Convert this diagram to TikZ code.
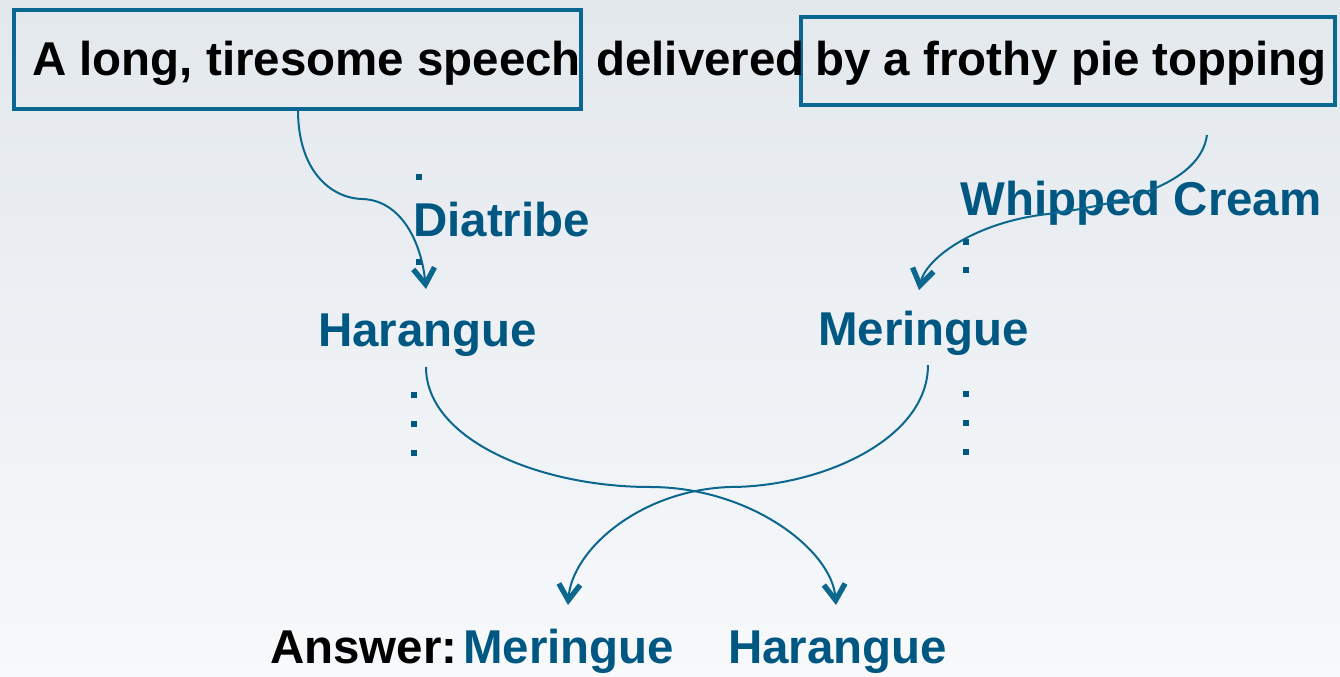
\documentclass[tikz,border=0pt]{standalone}
\usepackage{fontspec}
\setmainfont{Liberation Sans}
\usetikzlibrary{arrows.meta,fit}
\definecolor{bgtop}{RGB}{227,232,237}
\definecolor{bgbot}{RGB}{247,249,251}
\definecolor{boxc}{RGB}{10,103,145}
\definecolor{txtblue}{RGB}{0,88,130}
\definecolor{arrc}{RGB}{12,103,143}
\begin{document}
\begin{tikzpicture}[x=0.75pt,y=-0.75pt,
  boxst/.style={draw=boxc, line width=3pt, inner sep=0pt},
  blk/.style={anchor=base west, inner sep=0pt, text=black, font=\fontsize{35.6}{40}\selectfont\bfseries},
  blu/.style={blk, text=txtblue},
  dotst/.style={fill=txtblue, inner sep=0pt, minimum size=5.2pt},
  conn/.style={draw=arrc, line width=1.5pt, -{Straight Barb[length=12pt,width=16pt,line width=4pt]}}
]
\useasboundingbox (0,0) rectangle (1340,677);
\shade[top color=bgtop, bottom color=bgbot] (0,0) rectangle (1340,677);

% boxes
\node[boxst, fit={(14,10) (581,109)}] (lbox) {};
\node[boxst, fit={(801,17) (1335,105)}] (rbox) {};

% top line
\node[blk] (t1) at (32,76) {A long, tiresome speech};
\node[blk] (t2) at (596,76) {delivered};
\node[blk] (t3) at (815,76) {by a frothy pie topping};

% left column
\node[blu] (dia) at (413,237) {Diatribe};
\node[blu] (har) at (318,347) {Harangue};
% right column
\node[blu] (wc) at (960,216) {Whipped Cream};
\node[blu] (mer) at (818,346) {Meringue};

% dots
\node[dotst] (d1) at (419,177) {};
\node[dotst] (d2) at (419,262) {};
\node[dotst] (d3) at (414,395) {};
\node[dotst] (d4) at (414,424) {};
\node[dotst] (d5) at (414,453) {};
\node[dotst] (e1) at (966,242) {};
\node[dotst] (e2) at (966,270) {};
\node[dotst] (e3) at (966,394) {};
\node[dotst] (e4) at (966,423) {};
\node[dotst] (e5) at (966,452) {};

% bottom row
\node[blk] (ans) at (270,663) {Answer:};
\node[blu] (am) at (463,663) {Meringue};
\node[blu] (ah) at (728,663) {Harangue};

% connector ends
\coordinate (a1s) at (298,110);
\coordinate (a1e) at (426,289);
\coordinate (a2s) at (1207,135);
\coordinate (a2e) at (919,290);
\coordinate (a3s) at (426,367);
\coordinate (a3e) at (836,605);
\coordinate (a4s) at (928,365);
\coordinate (a4e) at (568,605);

\draw[conn] (a1s) .. controls (298,170) and (330,198) .. (362,199) .. controls (400,200) and (421,240) .. (a1e);
\draw[conn] (a2s) .. controls (1200,185) and (1120,205) .. (1040,215) .. controls (970,225) and (925,260) .. (a2e);
\draw[conn] (a3s) .. controls (426,440) and (540,487) .. (650,487) .. controls (750,487) and (832,550) .. (a3e);
\draw[conn] (a4s) .. controls (928,440) and (820,487) .. (730,487) .. controls (640,490) and (572,550) .. (a4e);
\end{tikzpicture}
\end{document}
